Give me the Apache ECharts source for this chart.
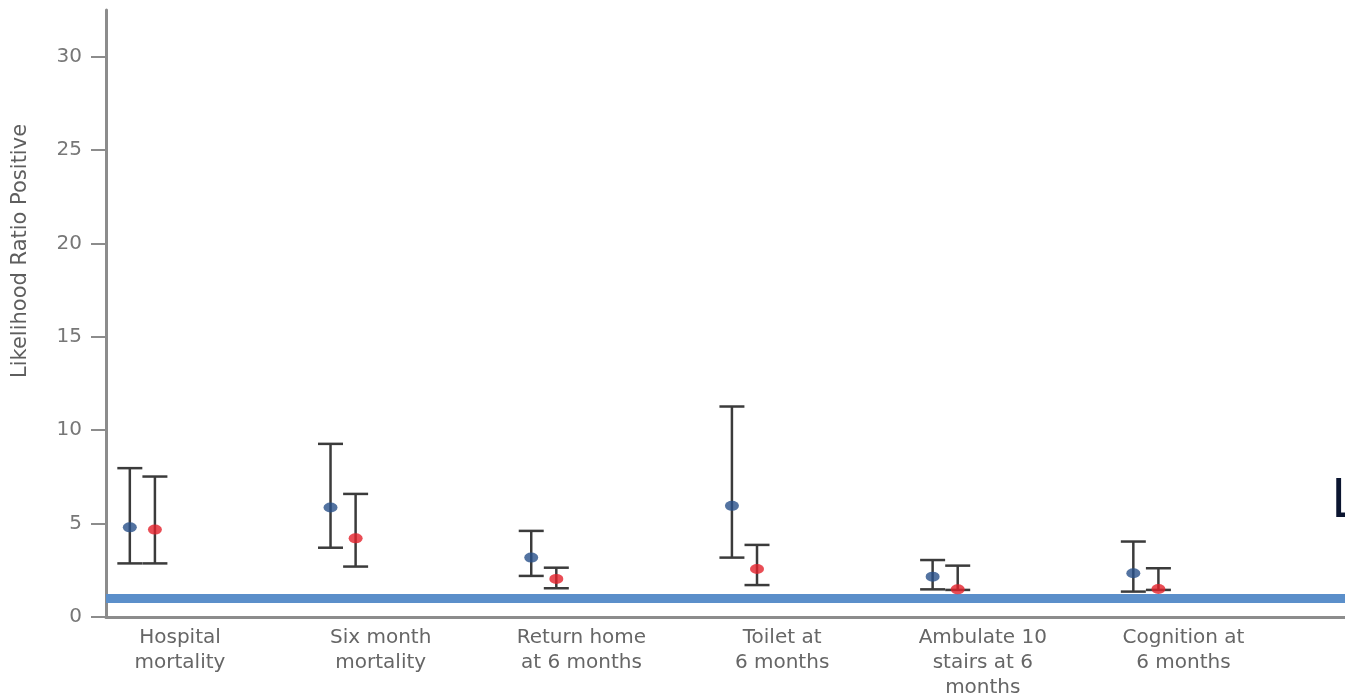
<!DOCTYPE html>
<html>
<head>
<meta charset="utf-8">
<title>Likelihood Ratio Positive</title>
<script src="https://cdn.jsdelivr.net/npm/echarts@6/dist/echarts.min.js"></script>
<style>
  html, body { margin: 0; padding: 0; background: #ffffff; }
  #chart { width: 1345px; height: 697px; }
</style>
</head>
<body>
<div id="chart"></div>
<script>
// Outcome categories (x axis)
const categories = [
  'Hospital\nmortality',
  'Six month\nmortality',
  'Return home\nat 6 months',
  'Toilet at\n6 months',
  'Ambulate 10\nstairs at 6\nmonths',
  'Cognition at\n6 months'
];

// Blue series: point estimate and confidence interval
const blueEst  = [4.80, 5.86, 3.18, 5.95, 2.16, 2.34];
const blueLow  = [2.87, 3.71, 2.20, 3.18, 1.48, 1.36];
const blueHigh = [7.97, 9.27, 4.61, 11.27, 3.05, 4.04];

// Red series: point estimate and confidence interval
const redEst  = [4.68, 4.21, 2.04, 2.57, 1.48, 1.50];
const redLow  = [2.87, 2.70, 1.54, 1.71, 1.45, 1.45];
const redHigh = [7.52, 6.59, 2.64, 3.86, 2.75, 2.61];

// Y axis ticks and the LR+ = 1 reference level
const yTicks = [0, 5, 10, 15, 20, 25, 30];
const referenceLevel = 1;

// Horizontal placement of each series inside a category slot
const blueShift = -0.25;
const redShift = -0.125;

const catIdx = categories.map((_, i) => i);
const blueBars = catIdx.map(i => [i + blueShift, blueLow[i], blueHigh[i]]);
const redBars  = catIdx.map(i => [i + redShift, redLow[i], redHigh[i]]);
const bluePts  = catIdx.map(i => [i + blueShift, blueEst[i]]);
const redPts   = catIdx.map(i => [i + redShift, redEst[i]]);

const chart = echarts.init(document.getElementById('chart'), null, { renderer: 'canvas' });

function errorBar(params, api) {
  const x = api.value(0);
  const lo = api.coord([x, api.value(1)]);
  const hi = api.coord([x, api.value(2)]);
  const half = 12.5;
  const style = { stroke: '#3b3b3b', lineWidth: 2.5 };
  return {
    type: 'group',
    children: [
      { type: 'line', shape: { x1: lo[0], y1: lo[1], x2: hi[0], y2: hi[1] }, style },
      { type: 'line', shape: { x1: hi[0] - half, y1: hi[1], x2: hi[0] + half, y2: hi[1] }, style },
      { type: 'line', shape: { x1: lo[0] - half, y1: lo[1], x2: lo[0] + half, y2: lo[1] }, style }
    ]
  };
}

const axisGray = '#8c8c8c';
const labelGray = '#666666';

chart.setOption({
  animation: false,
  backgroundColor: '#ffffff',
  grid: { left: 106, right: 0, top: 10, bottom: 80, containLabel: false, outerBoundsMode: 'none' },
  xAxis: {
    type: 'value',
    min: -0.3687,
    max: 5.8047,
    splitLine: { show: false },
    axisLine: { show: true, onZero: false, lineStyle: { color: axisGray, width: 3 } },
    axisTick: { show: false },
    axisLabel: {
      customValues: catIdx,
      formatter: v => categories[Math.round(v)],
      color: labelGray,
      fontFamily: 'DejaVu Sans',
      fontSize: 20,
      lineHeight: 25,
      margin: 8,
      align: 'center'
    }
  },
  yAxis: {
    type: 'value',
    min: 0,
    max: 32.5,
    splitLine: { show: false },
    axisLine: { show: true, onZero: false, lineStyle: { color: axisGray, width: 3 } },
    axisTick: {
      show: true,
      customValues: yTicks,
      length: 15,
      lineStyle: { color: axisGray, width: 2 }
    },
    axisLabel: {
      customValues: yTicks,
      color: '#777777',
      fontFamily: 'DejaVu Sans',
      fontSize: 20,
      margin: 24
    }
  },
  graphic: [
    {
      type: 'text',
      x: 21,
      y: 251,
      rotation: Math.PI / 2,
      style: {
        text: 'Likelihood Ratio Positive',
        fill: '#5e5e5e',
        font: '21px "DejaVu Sans"',
        align: 'center',
        verticalAlign: 'middle'
      }
    },
    {
      type: 'text',
      x: 1331,
      y: 529,
      style: {
        text: 'L',
        fill: '#0b1530',
        font: '54px "Noto Sans"',
        align: 'left',
        verticalAlign: 'bottom'
      }
    }
  ],
  series: [
    {
      name: 'reference',
      type: 'line',
      data: [],
      z: 1,
      markLine: {
        silent: true,
        symbol: 'none',
        label: { show: false },
        lineStyle: { color: '#5b8fca', width: 9, type: 'solid' },
        data: [{ yAxis: referenceLevel }]
      }
    },
    {
      name: 'blue CI',
      type: 'custom',
      renderItem: errorBar,
      encode: { x: 0, y: [1, 2] },
      data: blueBars,
      z: 3
    },
    {
      name: 'red CI',
      type: 'custom',
      renderItem: errorBar,
      encode: { x: 0, y: [1, 2] },
      data: redBars,
      z: 3
    },
    {
      name: 'blue',
      type: 'scatter',
      symbol: 'circle',
      symbolSize: [14, 10],
      itemStyle: { color: '#28508a' },
      data: bluePts,
      z: 5
    },
    {
      name: 'red',
      type: 'scatter',
      symbol: 'circle',
      symbolSize: [14, 10],
      itemStyle: { color: '#e3202a' },
      data: redPts,
      z: 5
    }
  ]
});
</script>
</body>
</html>
